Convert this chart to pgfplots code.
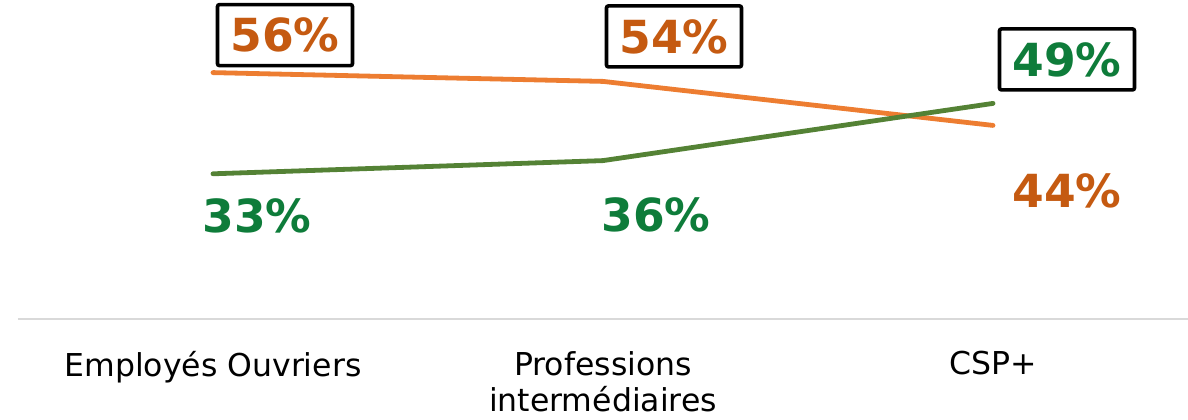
\documentclass[border=0pt]{standalone}
\usepackage{pgfplots}
\pgfplotsset{compat=1.18}
\usepackage{fontspec}
\setmainfont{DejaVu Sans}
\definecolor{orline}{HTML}{ED7D31}
\definecolor{ortext}{HTML}{C55A11}
\definecolor{grline}{HTML}{548235}
\definecolor{grtext}{HTML}{0E7C3A}
\begin{document}
\begin{tikzpicture}
\begin{axis}[
  scale only axis,
  width=585pt, height=159.5pt,
  xmin=-0.5, xmax=2.5, ymin=0, ymax=72.5,
  axis y line=none,
  axis x line*=bottom,
  x axis line style={draw=black!15, line width=0.8pt, -},
  xtick={0,1,2}, major tick length=0pt,
  xticklabels={Employés Ouvriers,{Professions\\intermédiaires},CSP+},
  xticklabel style={font=\fontsize{15.75}{18}\selectfont, align=center, yshift=-12.5pt},
  ytick=\empty,
  clip=false,
]
\addplot[orline, line width=2.4pt, line cap=round, line join=round] coordinates {(0,56) (1,54) (2,44)};
\addplot[grline, line width=2.4pt, line cap=round, line join=round] coordinates {(0,33) (1,36) (2,49)};
\tikzset{box/.style={draw=black, line width=1.8pt, rounded corners=1pt, fill=white, minimum width=67.5pt, minimum height=30.5pt, inner sep=0pt, text height=16.6pt, text depth=0pt, font=\fontsize{22.8}{24}\selectfont\bfseries},
lab/.style={inner sep=0pt, text height=16.6pt, text depth=0pt, font=\fontsize{22.8}{24}\selectfont\bfseries}}
\node[box, text=ortext, xshift=36pt, yshift=18.75pt] at (axis cs:0,56) {56\%};
\node[box, text=ortext, xshift=35.5pt, yshift=22.5pt] at (axis cs:1,54) {54\%};
\node[lab, text=ortext, xshift=37pt, yshift=-32.5pt] at (axis cs:2,44) {44\%};
\node[lab, text=grtext, xshift=22pt, yshift=-21pt] at (axis cs:0,33) {33\%};
\node[lab, text=grtext, xshift=26.5pt, yshift=-27pt] at (axis cs:1,36) {36\%};
\node[box, text=grtext, xshift=37pt, yshift=22pt] at (axis cs:2,49) {49\%};
\end{axis}
\pgfresetboundingbox
\path (current axis.south west) ++(-9pt,-50pt) rectangle (current axis.north east);
\end{tikzpicture}
\end{document}
